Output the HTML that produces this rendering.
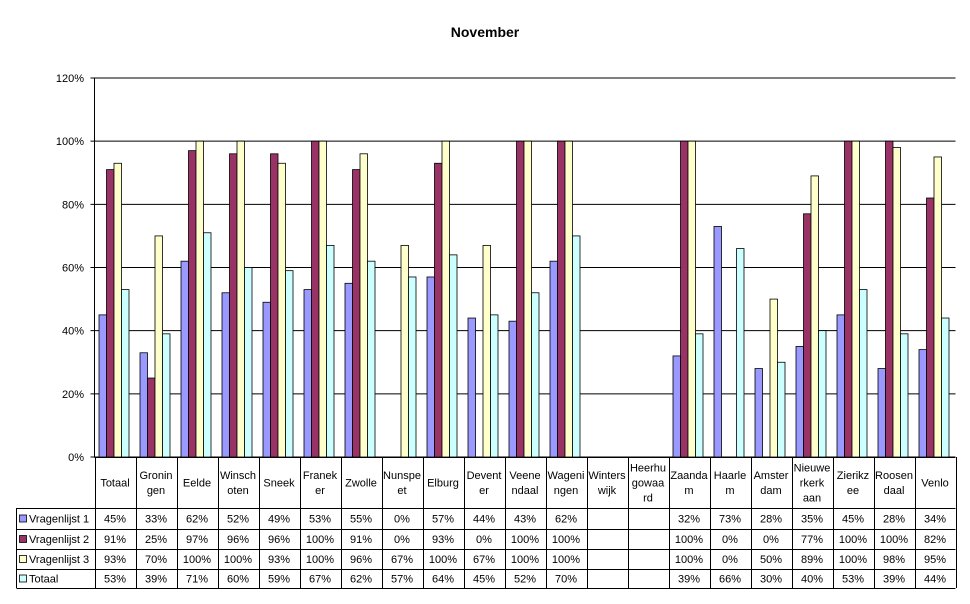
<!DOCTYPE html>
<html><head><meta charset="utf-8"><style>
body{margin:0;background:#fff;}
svg{display:block;font-family:"Liberation Sans",Arial,sans-serif;}
</style></head><body>
<svg id="c" width="970" height="604" xmlns="http://www.w3.org/2000/svg"></svg>
<script>
const cats=[["Totaal"],["Gronin","gen"],["Eelde"],["Winsch","oten"],["Sneek"],["Franek","er"],["Zwolle"],["Nunspe","et"],["Elburg"],["Devent","er"],["Veene","ndaal"],["Wageni","ngen"],["Winters","wijk"],["Heerhu","gowaa","rd"],["Zaanda","m"],["Haarle","m"],["Amster","dam"],["Nieuwe","rkerk","aan"],["Zierikz","ee"],["Roosen","daal"],["Venlo"]];
const data=[
[45,33,62,52,49,53,55,0,57,44,43,62,null,null,32,73,28,35,45,28,34],
[91,25,97,96,96,100,91,0,93,0,100,100,null,null,100,0,0,77,100,100,82],
[93,70,100,100,93,100,96,67,100,67,100,100,null,null,100,0,50,89,100,98,95],
[53,39,71,60,59,67,62,57,64,45,52,70,null,null,39,66,30,40,53,39,44]];
const names=["Vragenlijst 1","Vragenlijst 2","Vragenlijst 3","Totaal"];
const cols=["#9999FF","#993366","#FFFFCC","#CCFFFF"];
let s='';
s+='<text x="485" y="37" font-size="14" font-weight="bold" text-anchor="middle">November</text>';
const L=94.5,R=955.5,T=78,B=457,cw=(R-L)/21,ps=(B-T)/120;
for(let i=0;i<=6;i++){const y=B-i*20*ps;
 s+=`<line x1="${L-4}" x2="${R}" y1="${y}" y2="${y}" stroke="#000" stroke-width="1"/>`;
 s+=`<text x="84" y="${y+4}" font-size="11" text-anchor="end">${i*20}%</text>`;}
s+=`<line x1="${L}" x2="${L}" y1="${T}" y2="${B}" stroke="#000"/>`;
for(let c=0;c<21;c++){const x0=L+c*cw;
 for(let k=0;k<4;k++){const v=data[k][c];if(!v)continue;const h=v*ps;
  s+=`<rect x="${x0+4.5+k*7.5}" y="${B-h}" width="7.5" height="${h}" fill="${cols[k]}" stroke="#000" stroke-width="0.8"/>`;}}
// table
const rows=[457,508,529,549,569,588];
s+=`<g stroke="#000" stroke-width="1" fill="none">`;
for(let c=0;c<=21;c++){const x=Math.round(L+c*cw)+0.5;s+=`<line x1="${x}" x2="${x}" y1="457" y2="588"/>`;}
s+=`<line x1="16.5" x2="16.5" y1="508" y2="588"/>`;
s+=`<line x1="${L}" x2="${R}" y1="457.5" y2="457.5"/>`;
for(let r=1;r<6;r++)s+=`<line x1="16.5" x2="${R}" y1="${rows[r]+0.5}" y2="${rows[r]+0.5}"/>`;
s+=`</g>`;
for(let c=0;c<21;c++){const xc=L+(c+0.5)*cw;const lines=cats[c];const n=lines.length;const yc=482.5-(n-1)*7.5;
 lines.forEach((t,i)=>s+=`<text x="${xc}" y="${yc+i*15+4}" font-size="11" text-anchor="middle">${t}</text>`);
 for(let k=0;k<4;k++){const v=data[k][c];if(v===null)continue;const y=(rows[k+1]+rows[k+2])/2+4;
  s+=`<text x="${xc}" y="${y}" font-size="11" text-anchor="middle">${v}%</text>`;}}
for(let k=0;k<4;k++){const y=(rows[k+1]+rows[k+2])/2;
 s+=`<rect x="19.5" y="${y-3.5}" width="7" height="7" fill="${cols[k]}" stroke="#000" stroke-width="0.8"/>`;
 s+=`<text x="29" y="${y+4}" font-size="11">${names[k]}</text>`;}
document.getElementById('c').innerHTML=s;
</script>
</body></html>
